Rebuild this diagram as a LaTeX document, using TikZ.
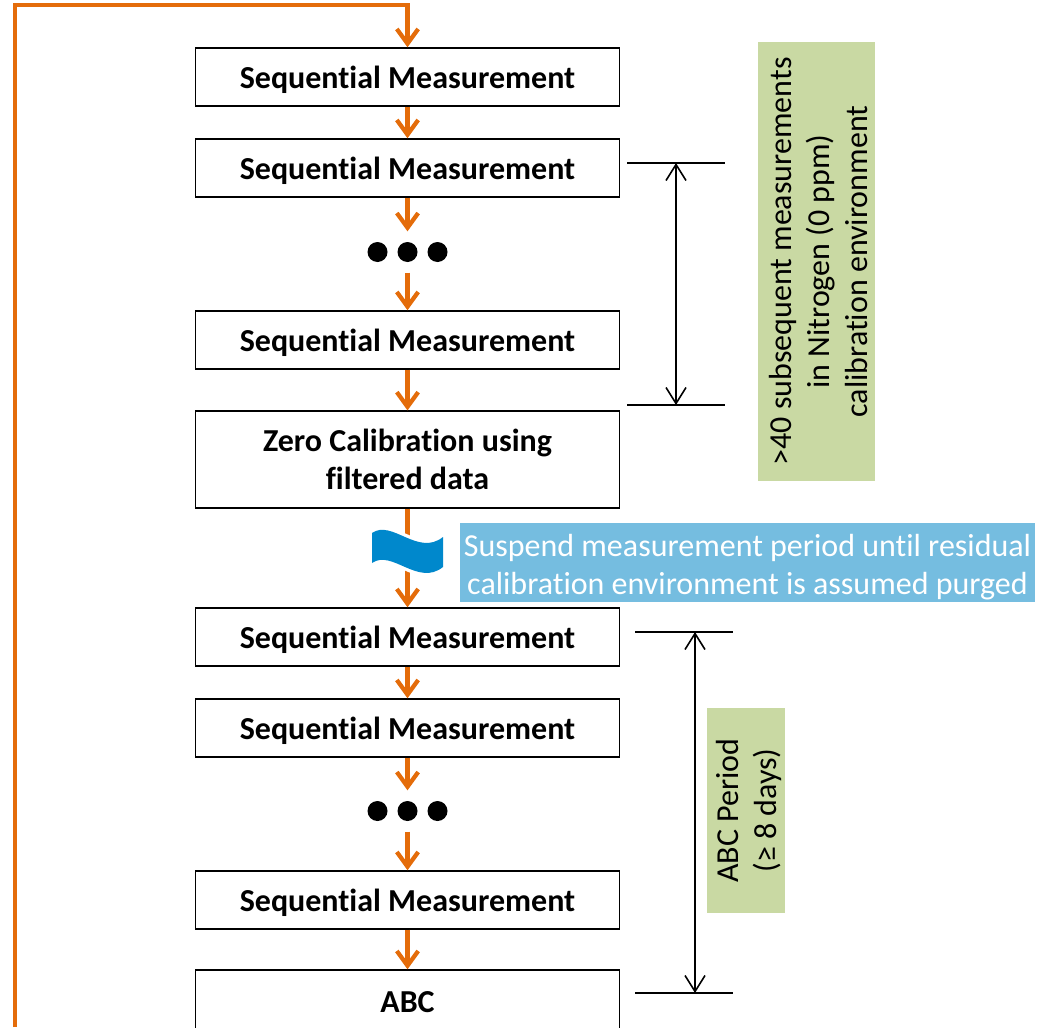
\documentclass[tikz,border=0pt]{standalone}
\usepackage{fontspec}
\setmainfont[Ligatures=CommonOff]{Carlito}
\usetikzlibrary{arrows.meta}
\definecolor{flowor}{HTML}{E46C0A}
\definecolor{notegreen}{HTML}{C9D9A3}
\definecolor{noteblue}{HTML}{75BDE0}
\definecolor{wavebl}{HTML}{0088CC}
\tikzset{
    measbox/.style = {draw, line width = 1.1pt, fill = white, minimum width = 318pt, minimum height = 43.5pt, align = center, inner sep = 0pt, font = \fontsize{24}{28.5}\selectfont\bfseries},
    seqbox/.style = {measbox, text height = 22pt, text depth = 5pt},
    dotnode/.style = {circle, fill = black, minimum size = 15pt, inner sep = 0pt, outer sep = 8pt},
    flow/.style = {draw = flowor, line width = 3.2pt, -{Straight Barb[length = 11pt, width = 16pt, line width = 3.2pt]}},
    dimarrow/.style = {line width = 1.2pt, {Straight Barb[length = 12pt, width = 15pt]}-{Straight Barb[length = 12pt, width = 15pt]}},
    dimline/.style = {line width = 1.4pt},
    greennote/.style = {fill = notegreen, align = center, inner sep = 0pt, rotate = 90, font = \fontsize{24}{28.5}\selectfont},
    bluenote/.style = {fill = noteblue, text = white, align = center, inner sep = 0pt, minimum width = 431pt, minimum height = 59pt, font = \fontsize{24}{28.5}\selectfont}
}
\begin{document}
\begin{tikzpicture}[x = .75pt, y = -.75pt]
    \useasboundingbox (0,0) rectangle (1044,1027);

    \node[seqbox] (seqa) at (407.5,77) {Sequential Measurement};
    \node[seqbox] (seqb) at (407.5,168) {Sequential Measurement};
    \node[dotnode] (dotsa) at (407.5,252) {};
    \node[dotnode] at (377.5,252) {};
    \node[dotnode] at (437.5,252) {};
    \node[seqbox] (seqc) at (407.5,340) {Sequential Measurement};
    \node[measbox, minimum height = 72.5pt] (zero) at (407.5,459.5) {Zero Calibration using\\filtered data};
    \node[seqbox] (seqd) at (407.5,637) {Sequential Measurement};
    \node[seqbox] (seqe) at (407.5,728) {Sequential Measurement};
    \node[dotnode] (dotsb) at (407.5,811) {};
    \node[dotnode] at (377.5,811) {};
    \node[dotnode] at (437.5,811) {};
    \node[seqbox] (seqf) at (407.5,900) {Sequential Measurement};
    \node[measbox, minimum height = 48pt] (abc) at (407.5,1002) {ABC};

    % loop back to the top
    \coordinate (loopa) at (15,1027);
    \coordinate (loopb) at (15,5);
    \coordinate (loopc) at (407.5,5);
    \draw[flow] (loopa) -- (loopb) -- (loopc) -- (seqa);

    \draw[flow] (seqa) -- (seqb);
    \draw[flow] (seqb) -- (dotsa);
    \draw[flow] (dotsa) -- (seqc);
    \draw[flow] (seqc) -- (zero);
    \draw[flow] (zero) -- (seqd);
    \draw[flow] (seqd) -- (seqe);
    \draw[flow] (seqe) -- (dotsb);
    \draw[flow] (dotsb) -- (seqf);
    \draw[flow] (seqf) -- (abc);

    % break in the flow
    \fill[wavebl, preaction = {draw = white, line width = 5pt}] (372,533) .. controls (392,519) and (418,557) .. (443,537) -- (443,567) .. controls (418,587) and (392,549) .. (372,563) -- cycle;
    \node[bluenote] (suspend) at (747.5,562.5) {\rule{0pt}{24pt}Suspend measurement period until residual\\calibration environment is assumed purged};

    % first span
    \coordinate (spanat) at (627,163);
    \coordinate (spanau) at (725,163);
    \coordinate (spanbt) at (627,405);
    \coordinate (spanbu) at (725,405);
    \coordinate (arrowa) at (676,163);
    \coordinate (arrowb) at (676,405);
    \draw[dimline] (spanat) -- (spanau);
    \draw[dimline] (spanbt) -- (spanbu);
    \draw[dimarrow] (arrowa) -- (arrowb);
    \node[greennote, minimum width = 329.25pt, minimum height = 87.75pt] (nitrogen) at (816.5,261.5) {\rule{0pt}{19pt}>40 subsequent measurements\\in Nitrogen (0 ppm)\\calibration environment};

    % second span
    \coordinate (spanct) at (635,632);
    \coordinate (spancu) at (733,632);
    \coordinate (spandt) at (635,993);
    \coordinate (spandu) at (733,993);
    \coordinate (arrowc) at (695,632);
    \coordinate (arrowd) at (695,993);
    \draw[dimline] (spanct) -- (spancu);
    \draw[dimline] (spandt) -- (spandu);
    \draw[dimarrow] (arrowc) -- (arrowd);
    \node[greennote, minimum width = 153.75pt, minimum height = 58.5pt] (abcperiod) at (746,810.5) {\rule{0pt}{21pt}ABC Period\\(≥ 8 days)};
\end{tikzpicture}
\end{document}
